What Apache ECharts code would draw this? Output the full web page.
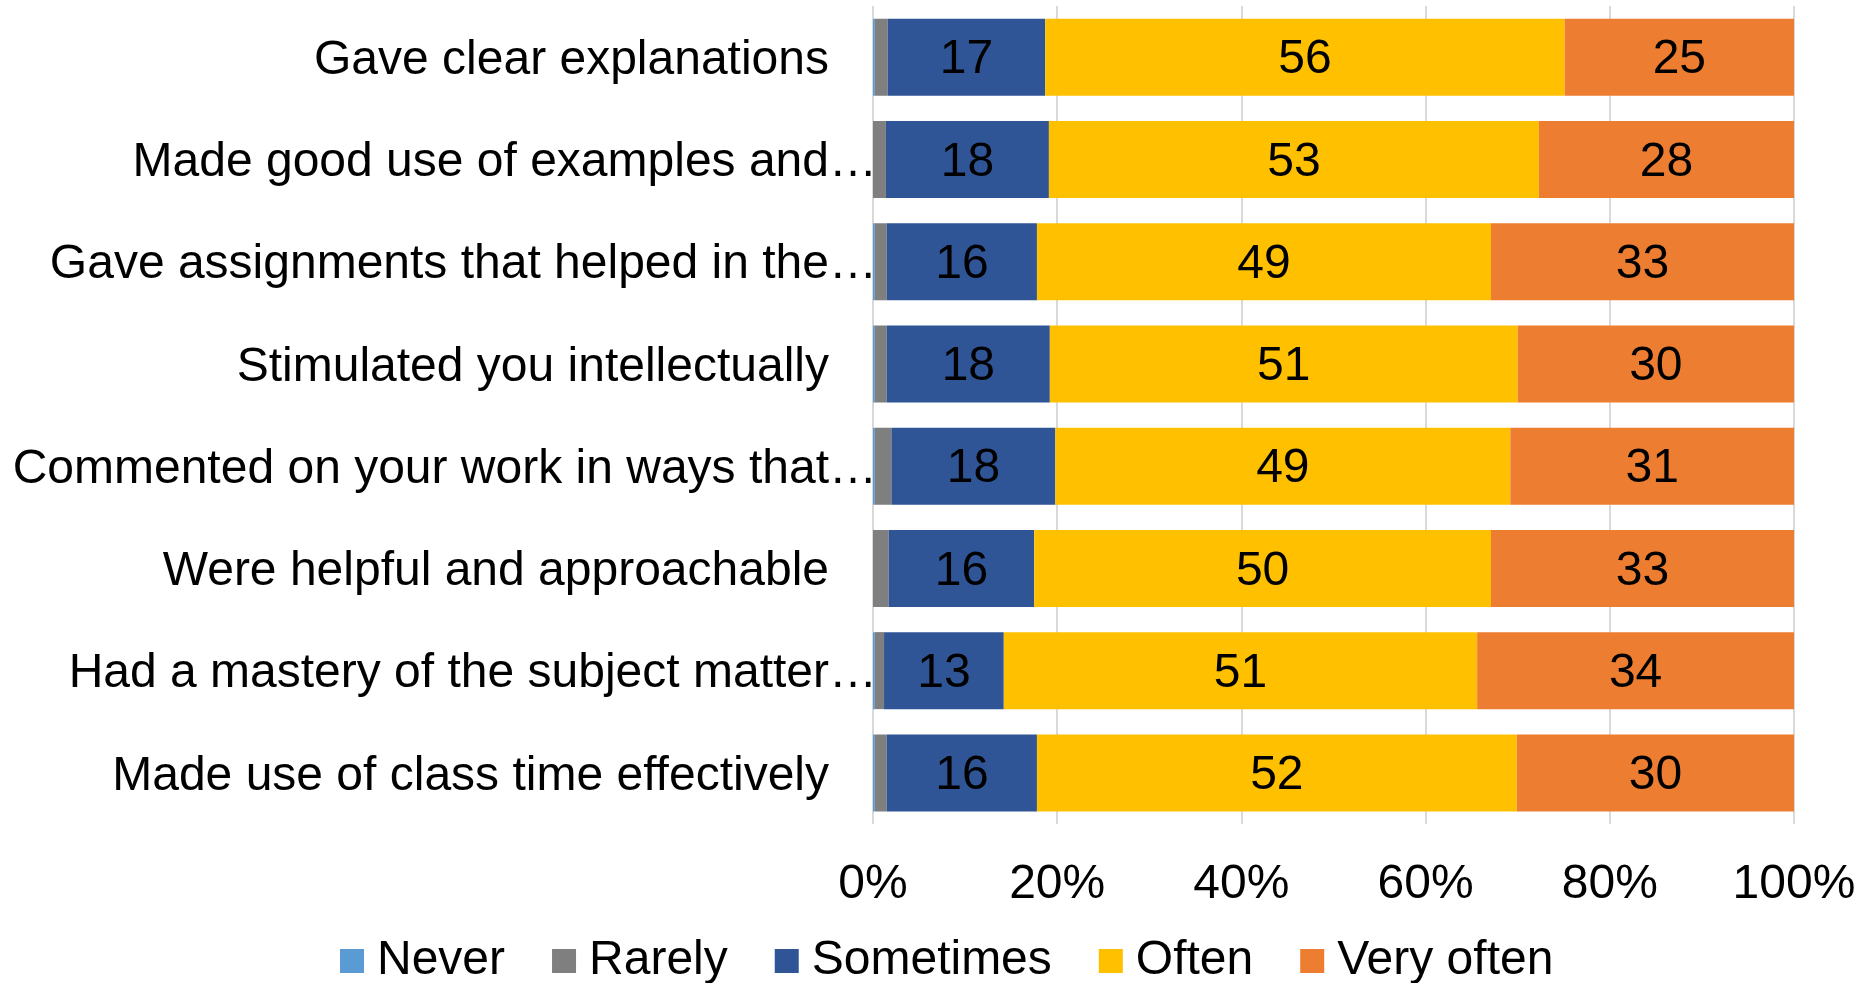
<!DOCTYPE html>
<html>
<head>
<meta charset="utf-8">
<script src="https://cdn.jsdelivr.net/npm/echarts@6/dist/echarts.min.js"></script>
<style>
  html, body { margin: 0; padding: 0; background: #fff; }
  #chart { width: 1865px; height: 983px; }
</style>
</head>
<body>
<div id="chart"></div>
<script>
// Survey items, top to bottom (labels as shown, long ones truncated)
const categories = [
  'Gave clear explanations',
  'Made good use of examples and…',
  'Gave assignments that helped in the…',
  'Stimulated you intellectually',
  'Commented on your work in ways that…',
  'Were helpful and approachable',
  'Had a mastery of the subject matter…',
  'Made use of class time effectively'
];

// Share of responses (%) per answer
const never     = [0.2, 0.0, 0.2, 0.2, 0.2, 0.0, 0.2, 0.2];
const rarely    = [1.4, 1.4, 1.3, 1.3, 1.8, 1.7, 1.0, 1.3];
const sometimes = [17.1, 17.7, 16.3, 17.7, 17.8, 15.8, 13.0, 16.3];
const often     = [56.4, 53.2, 49.3, 50.8, 49.4, 49.6, 51.4, 52.1];
const veryOften = [24.9, 27.7, 32.9, 30.0, 30.8, 32.9, 34.4, 30.1];

const seriesNames = ['Never', 'Rarely', 'Sometimes', 'Often', 'Very often'];
const seriesData = [never, rarely, sometimes, often, veryOften];
const seriesColors = ['#5B9BD5', '#7F7F7F', '#2F5597', '#FFC000', '#ED7D31'];
const showLabel = [false, false, true, true, true];

const xTicks = [0, 20, 40, 60, 80, 100];

const FONT = "'Liberation Sans', Arial, sans-serif";
const FS = 48;

const chart = echarts.init(document.getElementById('chart'), null, { renderer: 'canvas' });

chart.setOption({
  animation: false,
  backgroundColor: '#ffffff',
  textStyle: { fontFamily: FONT, color: '#000' },
  grid: { left: 873, right: 71, top: 6, bottom: 159, containLabel: false },
  legend: {
    data: seriesNames,
    left: 340,
    top: 937,
    padding: 0,
    itemWidth: 24,
    itemHeight: 24,
    itemGap: 47,
    icon: 'rect',
    textStyle: { fontFamily: FONT, fontSize: FS, color: '#000', padding: [0, 0, 0, 8] }
  },
  xAxis: {
    type: 'value',
    min: xTicks[0],
    max: xTicks[xTicks.length - 1],
    interval: 20,
    axisLine: { show: false },
    axisTick: { show: false },
    splitLine: { show: true, lineStyle: { color: '#d9d9d9', width: 2 } },
    axisLabel: {
      margin: 37,
      fontFamily: FONT,
      fontSize: FS,
      color: '#000',
      formatter: v => v + '%'
    }
  },
  yAxis: {
    type: 'category',
    data: categories,
    inverse: true,
    axisLine: { show: false },
    axisTick: { show: false },
    axisLabel: {
      margin: -4,
      fontFamily: FONT,
      fontSize: FS,
      color: '#000',
      formatter: v => (v.endsWith('…') ? '{t|' + v + '}' : '{f|' + v + '}'),
      rich: {
        f: { fontFamily: FONT, fontSize: FS, color: '#000', padding: [7, 48, 0, 0] },
        t: { fontFamily: FONT, fontSize: FS, color: '#000', padding: [7, 0, 0, 0] }
      }
    }
  },
  series: seriesNames.map((name, i) => ({
    name: name,
    type: 'bar',
    stack: 'total',
    barWidth: 77,
    data: seriesData[i],
    itemStyle: { color: seriesColors[i] },
    label: {
      show: showLabel[i],
      position: 'inside',
      offset: [0, 3],
      fontFamily: FONT,
      fontSize: FS,
      color: '#000',
      formatter: p => Math.round(p.value)
    }
  }))
});
</script>
</body>
</html>
